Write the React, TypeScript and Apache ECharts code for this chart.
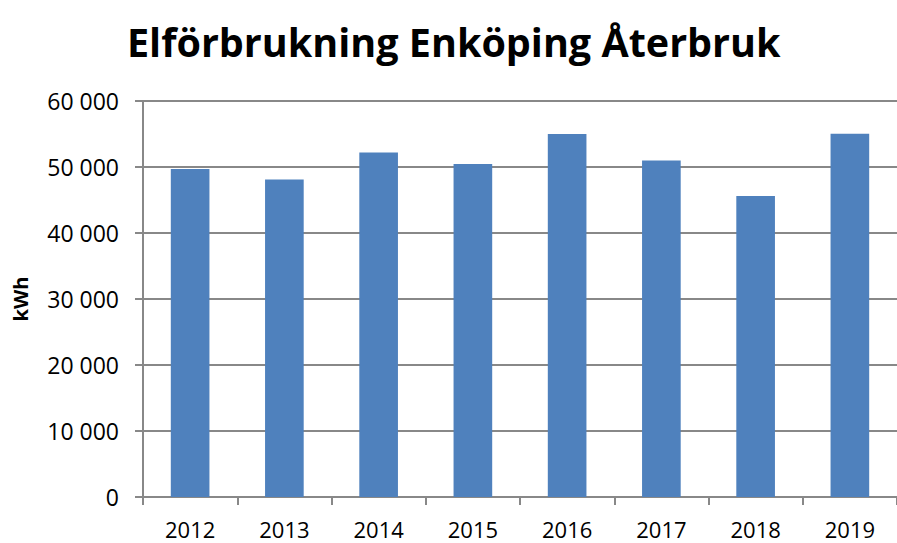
import React, { useEffect, useRef } from "react";
import * as echarts from "echarts";

const years = ["2012", "2013", "2014", "2015", "2016", "2017", "2018", "2019"];
const consumption = [49700, 48100, 52200, 50450, 55000, 51000, 45600, 55050];
const titleText = "Elförbrukning Enköping Återbruk";
const yAxisName = "kWh";

const fmt = (v: number) => {
  const s = String(Math.round(v));
  return s.replace(/\B(?=(\d{3})+(?!\d))/g, " ");
};

export default function App() {
  const ref = useRef<HTMLDivElement>(null);
  useEffect(() => {
    if (!ref.current) return;
    const chart = echarts.init(ref.current, null, { renderer: "svg" });
    const font = "'Open Sans', sans-serif";
    chart.setOption({
      animation: false,
      title: {
        text: titleText,
        left: 122,
        top: 17,
        textStyle: { fontFamily: font, fontWeight: "bold", fontSize: 39.5, color: "#000" },
      },
      grid: { left: 143, top: 101, bottom: 46, width: 760 },
      xAxis: {
        type: "category",
        data: years,
        axisLine: { lineStyle: { color: "#888", width: 2 } },
        axisTick: { show: true, length: 8, lineStyle: { color: "#888", width: 2 } },
        axisLabel: { fontFamily: font, fontSize: 22, color: "#000", margin: 21 },
      },
      yAxis: {
        type: "value",
        min: 0,
        max: 60000,
        interval: 10000,
        name: yAxisName,
        nameLocation: "middle",
        nameGap: 113,
        nameRotate: 90,
        nameTextStyle: { fontFamily: font, fontWeight: "bold", fontSize: 20, color: "#000" },
        axisLine: { show: true, lineStyle: { color: "#888", width: 2 } },
        axisTick: { show: true, length: 8, lineStyle: { color: "#888", width: 2 } },
        splitLine: { lineStyle: { color: "#888", width: 2 } },
        axisLabel: { fontFamily: font, fontSize: 23, color: "#000", margin: 24, formatter: fmt },
      },
      series: [
        {
          type: "bar",
          data: consumption,
          barWidth: "41%",
          itemStyle: { color: "#4F81BD" },
        },
      ],
    });
    return () => chart.dispose();
  }, []);
  return (
    <div
      ref={ref}
      style={{ position: "absolute", left: 0, top: 0, width: 897, height: 543, background: "#fff" }}
    />
  );
}
